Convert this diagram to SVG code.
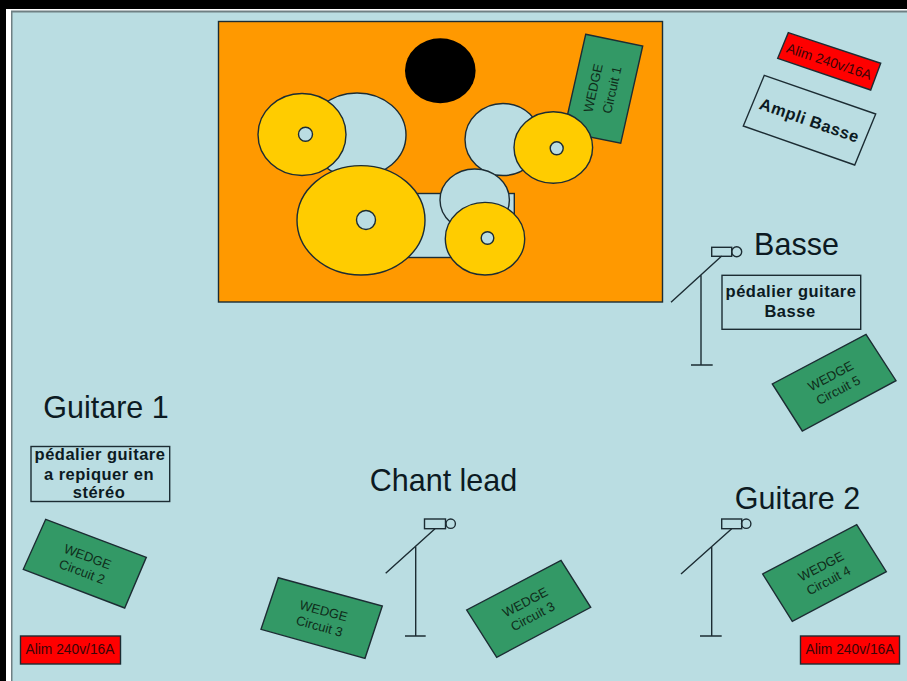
<svg xmlns="http://www.w3.org/2000/svg" width="907" height="681" viewBox="0 0 907 681">
<style>
text{font-family:"Liberation Sans",Arial,sans-serif;fill:#0c1a22;text-anchor:middle}
.k{stroke:#1c2c33;stroke-width:1.4}
.lb{fill:#badde2}.y{fill:#fc0}
.w{fill:#339966;stroke:#1c2c33;stroke-width:1.4}
.wt{font-size:13px;fill:#0f2c1a}
.r{fill:#f00;stroke:#1c2c33;stroke-width:1.4}
.rt{font-size:13.8px;fill:#3a0508}
.b{fill:none;stroke:#1c2c33;stroke-width:1.4}
.bt{font-size:16.500px;font-weight:bold;letter-spacing:.5px}
.h{font-size:30.500px}
</style>
<rect width="907" height="681" fill="#000"/>
<rect x="6" y="9" width="901" height="672" fill="#fff"/>
<rect x="11" y="10.500" width="896" height="670.500" fill="#6f7f83"/>
<rect x="12.500" y="12.500" width="894.500" height="668.500" fill="#badde2"/>
<g id="drums">
<rect class="k" x="218.500" y="21.500" width="444" height="280.500" fill="#f90"/>
<ellipse cx="440.300" cy="70.800" rx="35.300" ry="32.500" fill="#000"/>
<ellipse class="k lb" cx="357" cy="135" rx="49" ry="42"/>
<ellipse class="k y" cx="302" cy="134.500" rx="44" ry="41"/>
<circle class="k lb" cx="305.500" cy="134.300" r="7"/>
<ellipse class="k lb" cx="503" cy="139.500" rx="38" ry="36"/>
<rect class="k lb" x="400" y="193.500" width="114.300" height="64"/>
<ellipse class="k lb" cx="474.700" cy="200" rx="34.700" ry="31"/>
<ellipse class="k y" cx="361" cy="220.300" rx="64" ry="54.700"/>
<circle class="k lb" cx="366" cy="220" r="9.500"/>
<ellipse class="k y" cx="485" cy="238.700" rx="39.700" ry="36.300"/>
<circle class="k lb" cx="487.500" cy="238" r="6.300"/>
</g>
<g id="wedge1">
<polygon class="w" points="585.700,34.300 642.700,46 620.700,143.300 563.700,131.600"/>
<g transform="translate(603.200 88.800) rotate(-77.300)"><text class="wt" x="-1.400" y="-5.500">WEDGE</text><text class="wt" x=".7" y="13.300">Circuit 1</text></g>
</g>
<g id="hihat">
<ellipse class="k y" cx="553.300" cy="147.500" rx="39.300" ry="35.800"/>
<circle class="k lb" cx="556.700" cy="148.300" r="6.500"/>
</g>
<g id="alim-top">
<polygon class="r" points="788.300,32.700 880.700,63.300 870.700,90 777.700,58.300"/>
<text class="rt" transform="translate(829.200 61.300) rotate(18.300)" y="5">Alim 240v/16A</text>
</g>
<g id="ampli-basse">
<polygon class="b" points="764.300,75.300 875.700,114 854.700,165 743.300,126"/>
<text class="bt" transform="translate(809.500 120) rotate(19.200)" y="6">Ampli Basse</text>
</g>
<g id="basse">
<text class="h" x="796.500" y="255">Basse</text>
<rect class="b" x="722" y="275.300" width="138.700" height="54"/>
<text class="bt" x="791" y="297.300">pédalier guitare</text>
<text class="bt" x="790" y="316.700">Basse</text>
</g>
<g id="wedge5">
<polygon class="w" points="866,334.300 896,380.700 802.300,431 772.300,384"/>
<g transform="translate(834.200 382.700) rotate(-27.900)"><text class="wt" y="-3">WEDGE</text><text class="wt" y="13">Circuit 5</text></g>
</g>
<g id="guitare1">
<text class="h" x="106" y="417.500">Guitare 1</text>
<rect class="b" x="31" y="446.500" width="138.700" height="55"/>
<text class="bt" x="100" y="460">pédalier guitare</text>
<text class="bt" x="99" y="479.700">a repiquer en</text>
<text class="bt" x="99" y="498.400">stéréo</text>
</g>
<g id="wedge2">
<polygon class="w" points="45.700,519.300 146.300,557.300 124.700,608 23.300,569.300"/>
<g transform="translate(85 563.700) rotate(20.700)"><text class="wt" y="-3">WEDGE</text><text class="wt" y="13">Circuit 2</text></g>
</g>
<g id="alim-left">
<rect class="r" x="20.500" y="636" width="100" height="28"/>
<text class="rt" x="70" y="654">Alim 240v/16A</text>
</g>
<text class="h" x="443.500" y="491">Chant lead</text>
<g id="wedge3a">
<polygon class="w" points="278.300,577.700 382.300,606 365,658.300 261,629.300"/>
<g transform="translate(321.600 618) rotate(15.200)"><text class="wt" y="-3">WEDGE</text><text class="wt" y="13">Circuit 3</text></g>
</g>
<g id="wedge3b">
<polygon class="w" points="561,560.300 590.700,607.300 496.700,657.300 466.700,610"/>
<g transform="translate(528.700 608.800) rotate(-27.800)"><text class="wt" y="-3">WEDGE</text><text class="wt" y="13">Circuit 3</text></g>
</g>
<text class="h" x="797.500" y="509">Guitare 2</text>
<g id="wedge4">
<polygon class="w" points="856.700,524.700 886.300,571.700 792.300,621.300 762.700,574"/>
<g transform="translate(824.500 573) rotate(-27.800)"><text class="wt" y="-3">WEDGE</text><text class="wt" y="13">Circuit 4</text></g>
</g>
<g id="alim-right">
<rect class="r" x="800.500" y="636" width="99" height="28"/>
<text class="rt" x="850" y="654">Alim 240v/16A</text>
</g>
<g id="mic-basse" class="b">
<rect x="711.700" y="247.300" width="20" height="9"/><circle cx="736.700" cy="251.700" r="5"/>
<path d="M721.700 256 671 302.300M701 275V365M691 365H712.700"/>
</g>
<g id="mic-chant" class="b">
<rect x="424.500" y="519" width="21" height="9.700"/><circle cx="450.700" cy="523.700" r="4.700"/>
<path d="M435 528.700 385.700 573.300M415.700 546.700V636M405 636H425.700"/>
</g>
<g id="mic-guitare2" class="b">
<rect x="721.700" y="519" width="20" height="9.700"/><circle cx="746.200" cy="523.700" r="4.700"/>
<path d="M731.700 528.700 681 574M711.700 546.700V636M700 636H721.700"/>
</g>
</svg>
